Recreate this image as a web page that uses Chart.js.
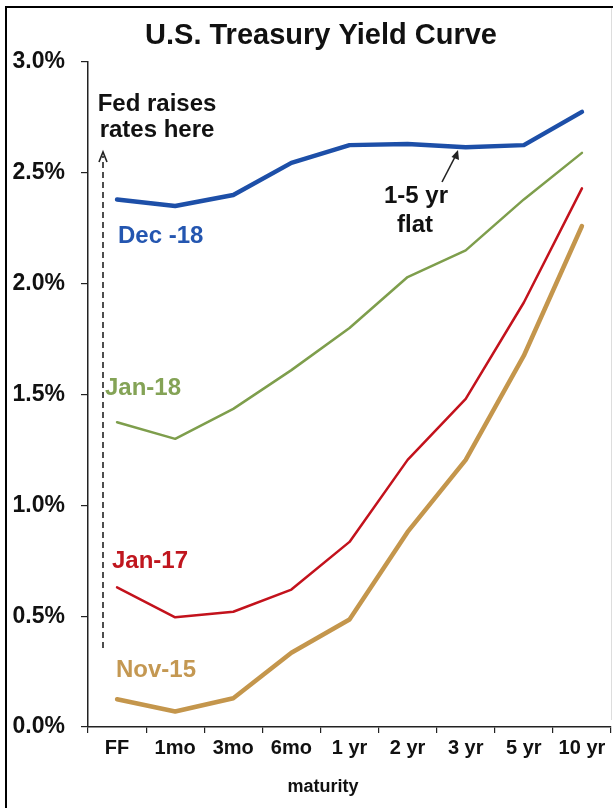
<!DOCTYPE html>
<html>
<head>
<meta charset="utf-8">
<script src="https://cdn.jsdelivr.net/npm/chart.js@4.4.1/dist/chart.umd.min.js"></script>
<style>
  html, body { margin: 0; padding: 0; background: #fff; }
  #wrap { position: relative; width: 613px; height: 808px; }
</style>
</head>
<body>
<div id="wrap"><canvas id="c" width="613" height="808"></canvas></div>
<script>
const categories = ['FF', '1mo', '3mo', '6mo', '1 yr', '2 yr', '3 yr', '5 yr', '10 yr'];
const dec18 = [2.38, 2.35, 2.40, 2.545, 2.625, 2.63, 2.615, 2.625, 2.775];
const jan18 = [1.375, 1.30, 1.435, 1.61, 1.80, 2.03, 2.15, 2.38, 2.59];
const jan17 = [0.63, 0.495, 0.52, 0.62, 0.835, 1.205, 1.48, 1.915, 2.43];
const nov15 = [0.125, 0.07, 0.13, 0.335, 0.485, 0.88, 1.205, 1.675, 2.26];
const yTicks = [0, 0.5, 1.0, 1.5, 2.0, 2.5, 3.0];

const FONT = "'Liberation Sans', Arial, Helvetica, sans-serif";
const C_BLUE = '#1d4fa8', C_GREEN = '#7e9e4c', C_RED = '#c3121c', C_TAN = '#c4964c';

const annot = {
  id: 'annot',
  beforeDraw(chart) {
    const ctx = chart.ctx;
    ctx.save();
    ctx.fillStyle = '#fff';
    ctx.fillRect(0, 0, chart.width, chart.height);
    ctx.restore();
  },
  afterDraw(chart) {
    const ctx = chart.ctx;
    ctx.save();
    // outer frame
    ctx.strokeStyle = '#000'; ctx.lineWidth = 2;
    ctx.beginPath(); ctx.moveTo(6, 820); ctx.lineTo(6, 7); ctx.lineTo(613, 7); ctx.stroke();
    ctx.strokeStyle = '#ddd'; ctx.lineWidth = 1;
    ctx.beginPath(); ctx.moveTo(611.5, 8); ctx.lineTo(611.5, 720); ctx.stroke();

    ctx.textAlign = 'center'; ctx.textBaseline = 'middle';
    ctx.fillStyle = '#111';
    ctx.font = 'bold 29px ' + FONT;
    ctx.fillText('U.S. Treasury Yield Curve', 321, 36);

    ctx.font = 'bold 24px ' + FONT;
    ctx.fillText('Fed raises', 157, 104);
    ctx.fillText('rates here', 157, 130);
    ctx.fillText('1-5 yr', 416, 196);
    ctx.fillText('flat', 415, 225);

    ctx.font = 'bold 18px ' + FONT;
    ctx.fillText('maturity', 323, 787);

    ctx.font = 'bold 24px ' + FONT;
    ctx.textAlign = 'left';
    ctx.fillStyle = '#2456b0'; ctx.fillText('Dec -18', 118, 236);
    ctx.fillStyle = '#84a356'; ctx.fillText('Jan-18', 105, 388);
    ctx.fillStyle = '#c0161e'; ctx.fillText('Jan-17', 112, 561);
    ctx.fillStyle = '#c49852'; ctx.fillText('Nov-15', 116, 670);

    // dashed arrow
    ctx.strokeStyle = '#222'; ctx.lineWidth = 1.6;
    ctx.setLineDash([6, 4]);
    ctx.beginPath(); ctx.moveTo(103, 648); ctx.lineTo(103, 156); ctx.stroke();
    ctx.setLineDash([]);
    ctx.beginPath(); ctx.moveTo(99, 162); ctx.lineTo(103, 152); ctx.lineTo(107, 162); ctx.stroke();

    // small arrow to blue line
    ctx.lineWidth = 1.6;
    ctx.beginPath(); ctx.moveTo(442, 182); ctx.lineTo(456, 155); ctx.stroke();
    ctx.fillStyle = '#222';
    ctx.beginPath(); ctx.moveTo(458, 150); ctx.lineTo(451.5, 157); ctx.lineTo(459, 160); ctx.closePath(); ctx.fill();
    ctx.restore();
  }
};

new Chart(document.getElementById('c'), {
  type: 'line',
  data: {
    labels: categories,
    datasets: [
      { label: 'Dec-18', data: dec18, borderColor: C_BLUE, borderWidth: 4.5 },
      { label: 'Jan-18', data: jan18, borderColor: C_GREEN, borderWidth: 2.5 },
      { label: 'Jan-17', data: jan17, borderColor: C_RED, borderWidth: 2.5 },
      { label: 'Nov-15', data: nov15, borderColor: C_TAN, borderWidth: 4.5 }
    ]
  },
  options: {
    responsive: false,
    animation: false,
    devicePixelRatio: 1,
    layout: { padding: { top: 62, right: 2, left: 0, bottom: 0 } },
    elements: {
      line: { tension: 0, borderJoinStyle: 'round', borderCapStyle: 'round', fill: false },
      point: { radius: 0 }
    },
    plugins: { legend: { display: false }, tooltip: { enabled: false }, title: { display: false } },
    scales: {
      x: {
        type: 'category',
        offset: true,
        afterFit(s) { s.height = 81; },
        grid: { offset: true, drawOnChartArea: false, drawTicks: true, tickLength: 6, color: '#222', lineWidth: 1.2 },
        border: { display: true, color: '#222', width: 1.5 },
        ticks: { color: '#111', font: { family: FONT, size: 20, weight: 'bold' }, padding: 3, maxRotation: 0, autoSkip: false }
      },
      y: {
        min: 0, max: 3,
        afterFit(s) { s.width = 88; },
        afterBuildTicks(s) { s.ticks = yTicks.map(v => ({ value: v })); },
        grid: { drawOnChartArea: false, drawTicks: true, tickLength: 7, color: '#222', lineWidth: 1.2 },
        border: { display: true, color: '#222', width: 1.5 },
        ticks: { color: '#111', font: { family: FONT, size: 23, weight: 'bold' }, padding: 16,
                 callback: v => Number(v).toFixed(1) + '%' }
      }
    }
  },
  plugins: [annot]
});
</script>
</body>
</html>
